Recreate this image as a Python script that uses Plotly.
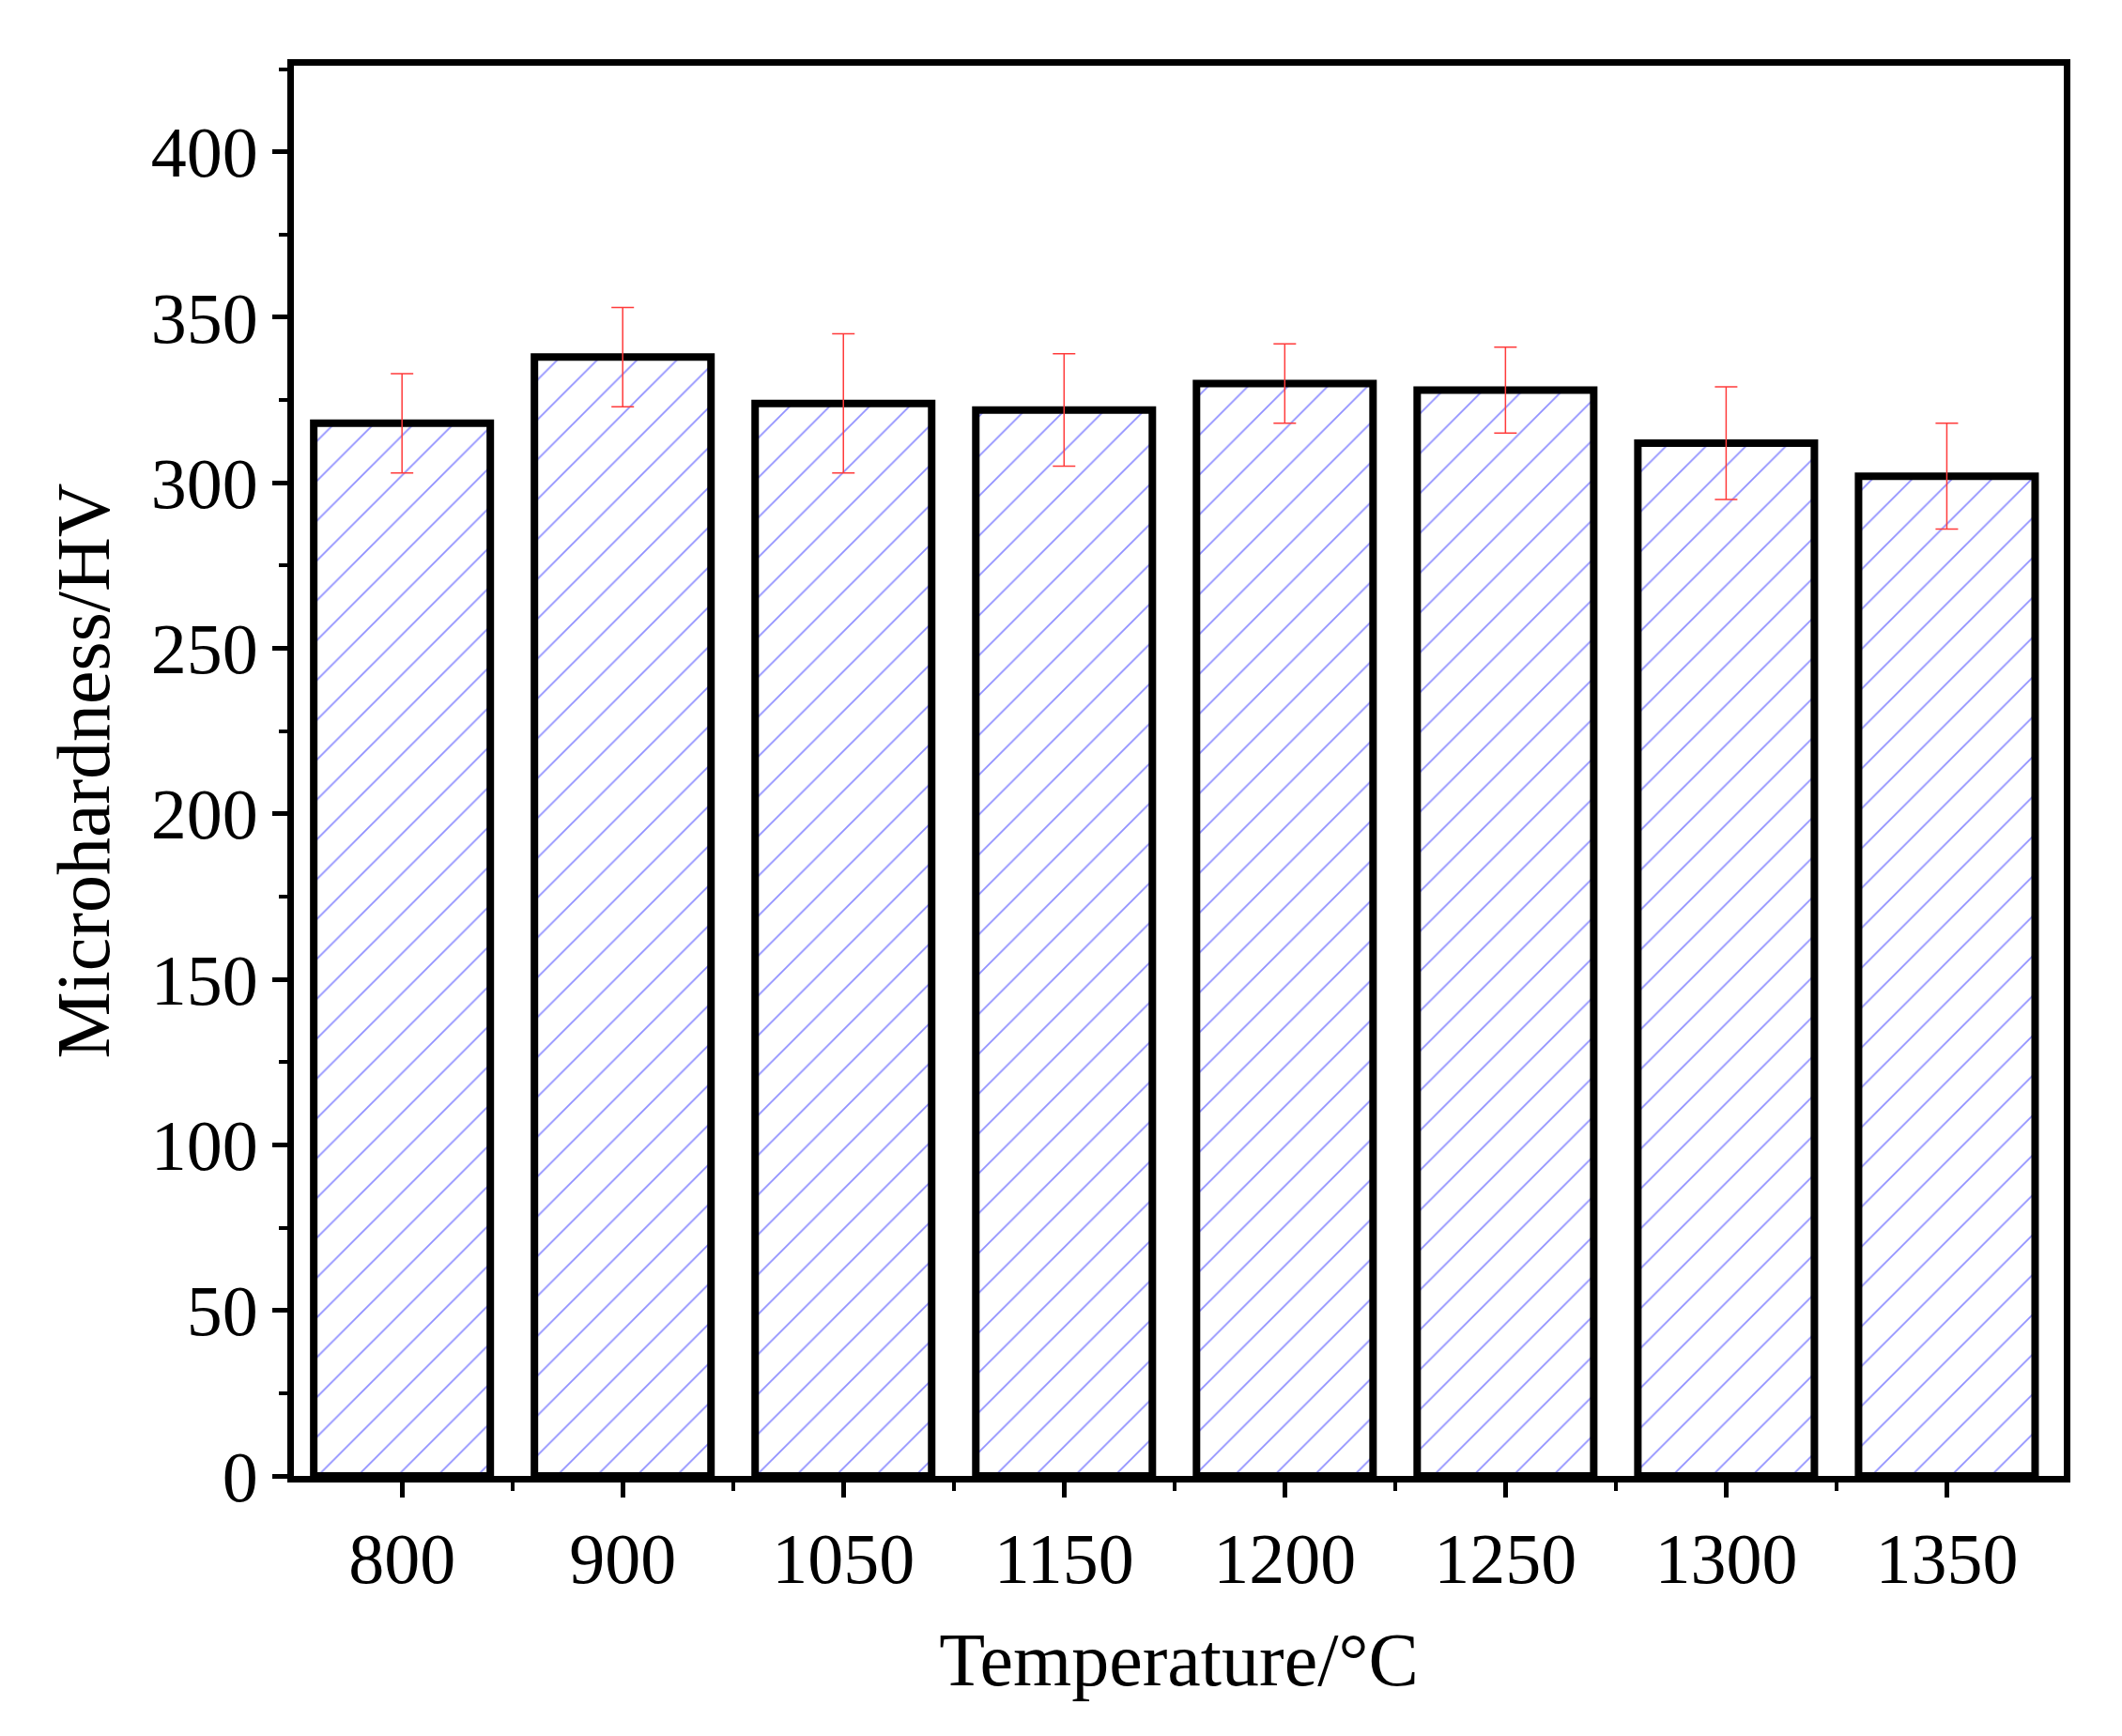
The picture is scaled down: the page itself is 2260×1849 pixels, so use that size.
import plotly.graph_objects as go

temps = ["800", "900", "1050", "1150", "1200", "1250", "1300", "1350"]
hardness = [318, 338, 324, 322, 330, 328, 312, 302]
errors = [15, 15, 21, 17, 12, 13, 17, 16]

pos = list(range(len(temps)))
font = "Liberation Serif"

fig = go.Figure(
    go.Bar(
        x=pos,
        y=hardness,
        width=0.8,
        marker=dict(
            color="white",
            line=dict(color="black", width=8),
            pattern=dict(shape="/", fgcolor="#2222ff", bgcolor="white", size=30, solidity=0.06),
        ),
        error_y=dict(type="data", array=errors, color="#ff3b3b", thickness=1.5, width=12),
    )
)

axis_common = dict(
    showline=True, linecolor="black", linewidth=7, mirror=True,
    ticks="outside", tickwidth=5, ticklen=16, tickcolor="black",
    showgrid=False, zeroline=False,
    tickfont=dict(family=font, size=76, color="black"),
)

fig.update_xaxes(
    **axis_common,
    range=[-0.49, 7.53],
    tickvals=pos, ticktext=temps,
    minor=dict(tickvals=[p + 0.5 for p in pos[:-1]] + [-0.5], ticks="outside", ticklen=9, tickwidth=4, tickcolor="black"),
    title=dict(text="Temperature/°C", font=dict(family=font, size=80, color="black"), standoff=40),
)
fig.update_yaxes(
    **axis_common,
    range=[0, 426],
    dtick=50,
    minor=dict(dtick=25, ticks="outside", ticklen=9, tickwidth=4, tickcolor="black"),
    title=dict(text="Microhardness/HV", font=dict(family=font, size=80, color="black"), standoff=20),
)

fig.update_layout(
    width=2260, height=1849,
    margin=dict(l=305, r=70, t=62, b=285),
    plot_bgcolor="white", paper_bgcolor="white",
    showlegend=False,
)

fig.write_html("out.html")
